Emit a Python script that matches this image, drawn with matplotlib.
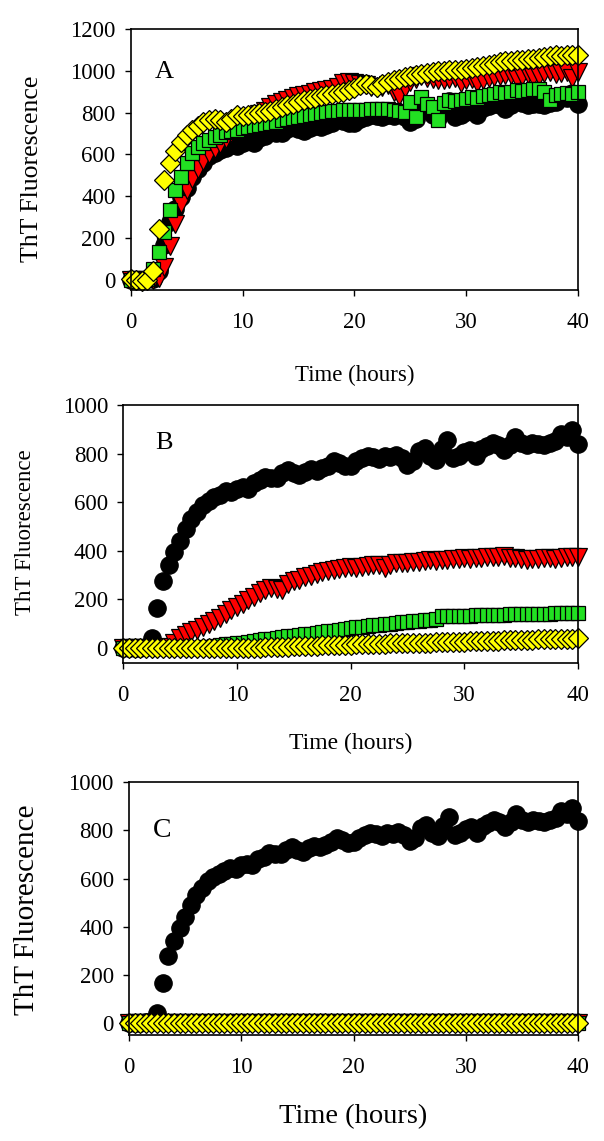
import numpy as np
import matplotlib
matplotlib.use("Agg")
import matplotlib.pyplot as plt

plt.rcParams['font.family'] = ['Liberation Serif', 'DejaVu Serif']

# sampling times (hours), every half hour
time = [0.0, 0.5, 1.0, 1.5, 2.0, 2.5, 3.0, 3.5, 4.0, 4.5,
        5.0, 5.5, 6.0, 6.5, 7.0, 7.5, 8.0, 8.5, 9.0, 9.5,
        10.0, 10.5, 11.0, 11.5, 12.0, 12.5, 13.0, 13.5, 14.0, 14.5,
        15.0, 15.5, 16.0, 16.5, 17.0, 17.5, 18.0, 18.5, 19.0, 19.5,
        20.0, 20.5, 21.0, 21.5, 22.0, 22.5, 23.0, 23.5, 24.0, 24.5,
        25.0, 25.5, 26.0, 26.5, 27.0, 27.5, 28.0, 28.5, 29.0, 29.5,
        30.0, 30.5, 31.0, 31.5, 32.0, 32.5, 33.0, 33.5, 34.0, 34.5,
        35.0, 35.5, 36.0, 36.5, 37.0, 37.5, 38.0, 38.5, 39.0, 39.5,
        40.0]

# control (black circles), same in all three panels
control = [0, 0, 0, 2, 5, 40, 165, 278, 340, 395,
           440, 490, 530, 560, 590, 605, 620, 630, 645, 640,
           655, 662, 655, 680, 690, 705, 700, 700, 720, 733,
           720, 712, 725, 735, 730, 740, 750, 768, 760, 748,
           750, 770, 780, 790, 785, 778, 790, 785, 795, 780,
           755, 770, 810, 822, 790, 775, 820, 856, 780, 790,
           805, 815, 790, 820, 830, 842, 835, 815, 835, 868,
           845, 835, 842, 840, 836, 845, 850, 880, 870, 895,
           840]

# panel A
A_red = [0, 0, 0, 0, 0, 10, 60, 160, 265, 360,
         430, 480, 530, 570, 600, 625, 650, 675, 700, 720,
         740, 760, 780, 795, 810, 825, 840, 850, 860, 870,
         878, 885, 890, 897, 903, 908, 915, 925, 940, 945,
         942, 935, 930, 925, 920, 925, 930, 900, 880, 920,
         945, 960, 975, 968, 960, 955, 958, 960, 965, 940,
         955, 960, 940, 955, 965, 970, 975, 978, 980, 960,
         975, 985, 970, 975, 990, 995, 985, 990, 995, 965,
         995]
A_green = [0, 0, 0, 5, 50, 130, 230, 335, 430, 490,
           560, 605, 635, 655, 670, 685, 695, 705, 712, 718,
           725, 731, 737, 742, 747, 752, 757, 763, 768, 772,
           779, 784, 789, 795, 799, 803, 806, 810, 811, 811,
           811, 812, 813, 815, 817, 819, 816, 811, 808, 803,
           851, 779, 875, 840, 827, 763, 845, 859, 855, 859,
           865, 875, 870, 880, 883, 890, 899, 895, 900, 907,
           905, 910, 915, 912, 899, 859, 885, 891, 895, 890,
           899]
A_yellow = [5, 0, -5, 0, 43, 243, 475, 560, 615, 660,
            695, 718, 735, 755, 765, 771, 765, 755, 770, 787,
            785, 787, 795, 800, 803, 810, 818, 825, 835, 840,
            850, 859, 865, 872, 878, 883, 888, 893, 899, 910,
            920, 930, 939, 932, 923, 935, 947, 955, 962, 970,
            975, 979, 985, 990, 995, 998, 1000, 1002, 1003, 1005,
            1010, 1015, 1019, 1025, 1030, 1035, 1040, 1045, 1048, 1051,
            1053, 1056, 1059, 1062, 1066, 1070, 1075, 1073, 1074, 1076,
            1075]

# panel B
B_red = [0, 0, 0, 0, 0, 0, 0, 0, 5, 20,
         40, 55, 68, 75, 88, 100, 110, 125, 142, 155,
         168, 182, 198, 212, 225, 240, 248, 245, 238, 262,
         275, 282, 292, 298, 305, 312, 318, 322, 326, 330,
         332, 330, 335, 338, 342, 340, 328, 340, 348, 350,
         352, 355, 356, 358, 362, 360, 364, 362, 366, 368,
         370, 368, 370, 372, 374, 375, 376, 378, 372, 370,
         366, 362, 365, 368, 372, 370, 368, 372, 374, 376,
         376]
B_green = [0, 0, 0, 0, 0, 0, 0, 0, 0, 0,
           0, 0, 1, 2, 4, 6, 9, 12, 15, 17,
           20, 23, 26, 29, 33, 36, 39, 42, 45, 48,
           51, 54, 57, 60, 63, 66, 69, 72, 75, 79,
           82, 85, 88, 90, 93, 96, 98, 101, 103, 106,
           108, 110, 112, 114, 116, 118, 130, 131, 132, 133,
           134, 134, 135, 136, 137, 137, 138, 138, 139, 139,
           140, 140, 141, 141, 142, 142, 143, 143, 144, 144,
           146]
B_yellow = [0, 0, 0, 0, 0, 0, 0, 0, 0, 0,
            0, 0, 0, 0, 0, 0, 0, 0, 0, 0,
            0, 0, 0, 1, 2, 3, 4, 5, 5, 6,
            7, 8, 8, 9, 10, 11, 11, 12, 13, 13,
            14, 15, 15, 16, 17, 17, 18, 19, 19, 20,
            21, 21, 22, 23, 23, 24, 25, 25, 26, 27,
            27, 28, 29, 29, 30, 31, 31, 32, 33, 33,
            34, 34, 35, 36, 36, 37, 37, 38, 38, 39,
            40]

# panel C: the three treated samples stay flat at zero
C_flat = [0, 0, 0, 0, 0, 0, 0, 0, 0, 0,
          0, 0, 0, 0, 0, 0, 0, 0, 0, 0,
          0, 0, 0, 0, 0, 0, 0, 0, 0, 0,
          0, 0, 0, 0, 0, 0, 0, 0, 0, 0,
          0, 0, 0, 0, 0, 0, 0, 0, 0, 0,
          0, 0, 0, 0, 0, 0, 0, 0, 0, 0,
          0, 0, 0, 0, 0, 0, 0, 0, 0, 0,
          0, 0, 0, 0, 0, 0, 0, 0, 0, 0,
          0]

x_ticks = [0, 10, 20, 30, 40]
panel_letters = ['A', 'B', 'C']
x_label = 'Time (hours)'
y_label = 'ThT Fluorescence'

# marker style per series: (marker, size, face colour)
styles = [('o', 12.5, 'black'),
          ('v', 13, '#ff0000'),
          ('s', 10.5, '#22e022'),
          ('D', 10.3, '#ffff00')]

panels = [
    dict(rect=[0.2164, 0.7458, 0.7406, 0.2287], ylim=(-50, 1200),
         yticks=[0, 200, 400, 600, 800, 1000, 1200],
         series=[control, A_red, A_green, A_yellow],
         letter_pos=(0.054, 0.835), letter_size=19,
         ylab_size=18.5, ylab_pos=(-0.221, 0.464),
         xlab_size=16.5, xlab_pos=(0.5, -0.326)),
    dict(rect=[0.2041, 0.4192, 0.7528, 0.2259], ylim=(-60, 1000),
         yticks=[0, 200, 400, 600, 800, 1000],
         series=[control, B_red, B_green, B_yellow],
         letter_pos=(0.07, 0.853), letter_size=19,
         ylab_size=16.5, ylab_pos=(-0.216, 0.507),
         xlab_size=17, xlab_pos=(0.5, -0.312)),
    dict(rect=[0.2136, 0.0929, 0.7434, 0.2215], ylim=(-50, 1000),
         yticks=[0, 200, 400, 600, 800, 1000],
         series=[control, C_flat, C_flat, C_flat],
         letter_pos=(0.053, 0.808), letter_size=20,
         ylab_size=21, ylab_pos=(-0.227, 0.495),
         xlab_size=20.5, xlab_pos=(0.5, -0.324)),
]

fig = plt.figure(figsize=(6.04, 11.41), dpi=100)

for letter, p in zip(panel_letters, panels):
    ax = fig.add_axes(p['rect'])
    for (mk, ms, fc), values in zip(styles, p['series']):
        ax.plot(time, values, linestyle='none', marker=mk, markersize=ms,
                markerfacecolor=fc, markeredgecolor='black',
                markeredgewidth=0.9, clip_on=False)
    ax.set_xlim(0, 40)
    ax.set_ylim(*p['ylim'])
    ax.set_xticks(x_ticks)
    ax.set_yticks(p['yticks'])
    ax.tick_params(direction='out', length=4, width=1, labelsize=16.5,
                   top=False, right=False)
    ax.tick_params(axis='x', pad=12)
    ax.tick_params(axis='y', pad=7)
    for sp in ax.spines.values():
        sp.set_linewidth(1.2)
    ax.set_xlabel(x_label, fontsize=p['xlab_size'], va='center')
    ax.xaxis.set_label_coords(*p['xlab_pos'])
    ax.set_ylabel(y_label, fontsize=p['ylab_size'], va='center')
    ax.yaxis.set_label_coords(*p['ylab_pos'])
    ax.text(p['letter_pos'][0], p['letter_pos'][1], letter,
            transform=ax.transAxes, ha='left', va='center',
            fontsize=p['letter_size'])

fig.savefig('out.png', dpi=100)
